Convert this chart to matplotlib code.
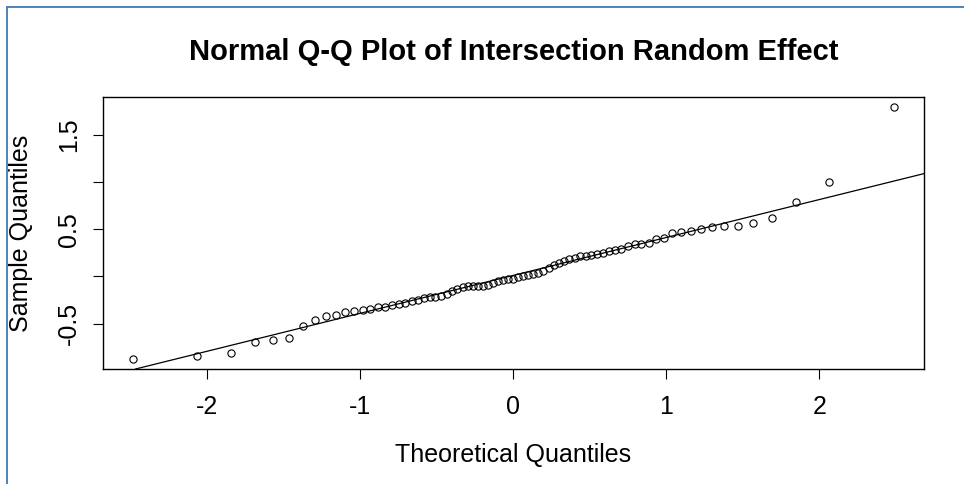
import numpy as np
import matplotlib
matplotlib.use("Agg")
import matplotlib.pyplot as plt
from matplotlib.lines import Line2D
from statistics import NormalDist

plt.rcParams['font.family'] = ['Liberation Sans', 'DejaVu Sans']
plt.rcParams['axes.unicode_minus'] = False

title = "Normal Q-Q Plot of Intersection Random Effect"
xlabel = "Theoretical Quantiles"
ylabel = "Sample Quantiles"

# sorted sample quantiles (random effects)
sample = [
    -0.872, -0.836, -0.812, -0.695, -0.677, -0.656, -0.528, -0.461, -0.416, -0.412,
    -0.376, -0.362, -0.350, -0.346, -0.322, -0.319, -0.303, -0.290, -0.277, -0.259,
    -0.250, -0.233, -0.218, -0.213, -0.203, -0.181, -0.152, -0.134, -0.115, -0.106,
    -0.103, -0.099, -0.097, -0.091, -0.072, -0.048, -0.035, -0.030, -0.024, -0.006,
    0.000, 0.013, 0.026, 0.033, 0.055, 0.088, 0.124, 0.144, 0.166, 0.187,
    0.199, 0.213, 0.218, 0.224, 0.233, 0.249, 0.264, 0.282, 0.289, 0.327,
    0.338, 0.345, 0.355, 0.398, 0.408, 0.461, 0.470, 0.476, 0.504, 0.525,
    0.532, 0.536, 0.561, 0.614, 0.791, 0.997, 1.791,
]

xticks = [-2, -1, 0, 1, 2]
xticklabels = ["-2", "-1", "0", "1", "2"]
yticks = [-0.5, 0.0, 0.5, 1.0, 1.5]
yticklabels = ["-0.5", "", "0.5", "", "1.5"]

# qqnorm: theoretical quantiles via ppoints (a = 0.5 for n > 10)
y = np.array(sample)
n = len(y)
nd = NormalDist()
probs = (np.arange(1, n + 1) - 0.5) / n
x = np.array([nd.inv_cdf(p) for p in probs])

# qqline through the quartiles
yq = np.quantile(y, [0.25, 0.75])
xq = np.array([nd.inv_cdf(0.25), nd.inv_cdf(0.75)])
slope = (yq[1] - yq[0]) / (xq[1] - xq[0])
intercept = yq[0] - slope * xq[0]

W, H = 964, 484
fig = plt.figure(figsize=(W / 100, H / 100), dpi=100)
ax = fig.add_axes([102.7 / W, 1 - 369 / H, (924 - 102.7) / W, (369 - 97) / H])

ax.plot(x, y, linestyle='none', marker='o', markersize=5.2, markerfacecolor='none',
        markeredgecolor='black', markeredgewidth=0.8)
ax.margins(x=0.04, y=0.04)
ax.axline((0, intercept), slope=slope, color='black', linewidth=0.9)

ax.set_xticks(xticks)
ax.set_xticklabels(xticklabels)
ax.set_yticks(yticks)
ax.set_yticklabels(yticklabels, rotation=90, va='center')
ax.tick_params(axis='both', direction='out', length=7.2, width=0.8, labelsize=18)
ax.tick_params(axis='x', pad=11.5)
ax.tick_params(axis='y', pad=8.5)
for s in ax.spines.values():
    s.set_linewidth(1.0)

fig.text(513.5 / W, 1 - 60 / H, title, ha='center', va='baseline',
         fontsize=21, fontweight='bold')
fig.text(513.5 / W, 1 - 461.7 / H, xlabel, ha='center', va='baseline', fontsize=18)
fig.text(33 / W, 1 - 233 / H, ylabel, ha='right', va='center', rotation=90, fontsize=18)

# blue frame
c = '#4F81BD'
fig.add_artist(Line2D([6.5 / W, 6.5 / W], [0, 1 - 6.5 / H], color=c, linewidth=1.4,
                      transform=fig.transFigure))
fig.add_artist(Line2D([6.5 / W, 1], [1 - 6.5 / H, 1 - 6.5 / H], color=c, linewidth=1.4,
                      transform=fig.transFigure))

fig.savefig("out.png", dpi=100)
